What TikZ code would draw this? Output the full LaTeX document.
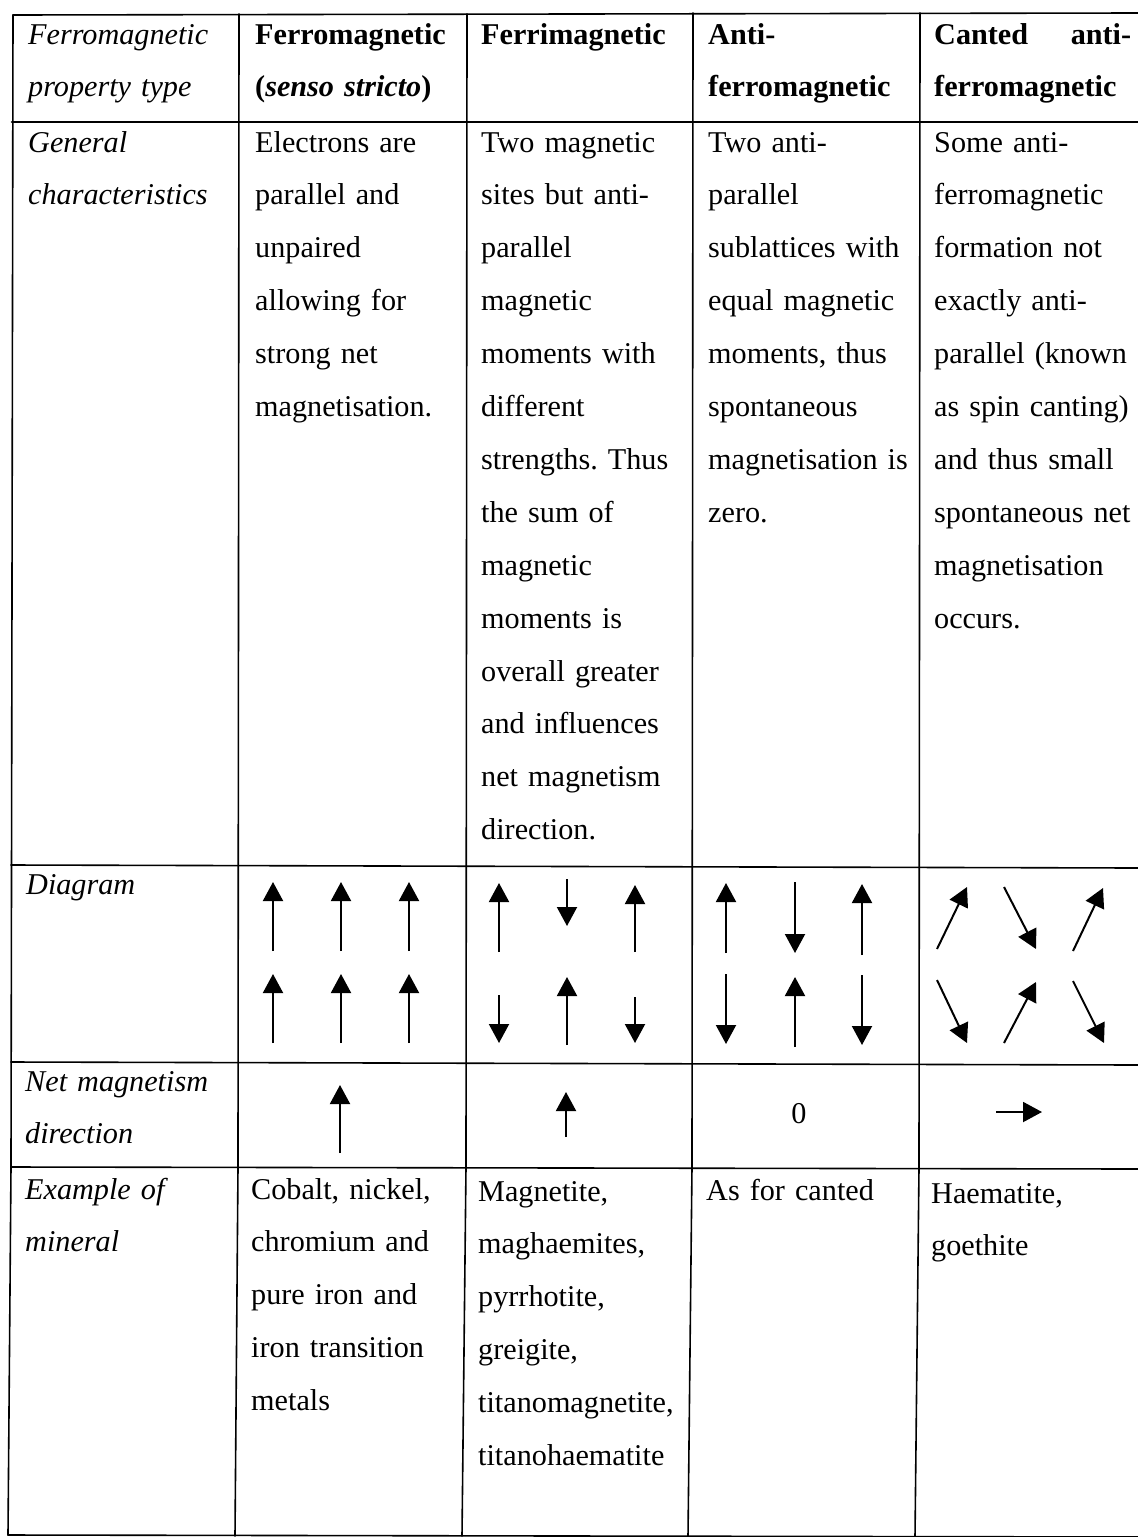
\documentclass[tikz,border=0pt]{standalone}
\usepackage{fontspec}
\setmainfont{Liberation Serif}
\usetikzlibrary{arrows.meta}
\frenchspacing

\begin{document}
\begin{tikzpicture}[x=1pt,y=-1pt,
  rule/.style={line width=1.6pt, line cap=round},
  txt/.style={anchor=base west, inner sep=0pt, align=left, text width=205pt,
    font=\fontsize{30.2}{52.9}\selectfont},
  head/.style={txt, font=\fontsize{30.2}{52.9}\selectfont\bfseries},
  lbl/.style={txt, font=\fontsize{30.2}{52.9}\selectfont\itshape},
  spin/.style={line width=2pt, -{Triangle[length=19pt,width=20pt]}},
]
\useasboundingbox (0,0) rectangle (1138,1537);

% horizontal rules
\draw[rule] (13,15) -- (1138,13);
\draw[rule, line width=2.6pt] (12,122) -- (1138,122);
\draw[rule] (11,865) -- (1138,868);
\draw[rule] (11,1062) -- (1138,1065);
\draw[rule] (11,1167) -- (1138,1169);
\draw[rule] (8,1535) -- (1138,1537);

% vertical rules
\draw[rule] (13,15) -- (11,1167) -- (8,1535);
\draw[rule] (239,14) -- (238,1167) -- (235,1536);
\draw[rule] (467,14) -- (466,1167) -- (462,1536);
\draw[rule] (693,13) -- (692,1167) -- (688,1537);
\draw[rule] (920,13) -- (919,1168) -- (915,1537);

% header row
\node[lbl] (h1) at (28,44) {Ferromagnetic\\property type};
\node[head] (h2) at (255,44) {Ferromagnetic\\(\textit{senso stricto})};
\node[head] (h3) at (481,44) {Ferrimagnetic};
\node[head] (h4) at (708,44) {Anti-\\ferromagnetic};
\node[head] (h5) at (934,44) {\hbox to 197pt{Canted\hfill anti-}\\ferromagnetic};

% general characteristics
\node[lbl] (g1) at (28,152) {General\\characteristics};
\node[txt] (g2) at (255,152) {Electrons are\\parallel and\\unpaired\\allowing for\\strong net\\magnetisation.};
\node[txt] (g3) at (481,152) {Two magnetic\\sites but anti-\\parallel\\magnetic\\moments with\\different\\strengths. Thus\\the sum of\\magnetic\\moments is\\overall greater\\and influences\\net magnetism\\direction.};
\node[txt] (g4) at (708,152) {Two anti-\\parallel\\sublattices with\\equal magnetic\\moments, thus\\spontaneous\\magnetisation is\\zero.};
\node[txt] (g5) at (934,152) {Some anti-\\ferromagnetic\\formation not\\exactly anti-\\parallel (known\\as spin canting)\\and thus small\\spontaneous net\\magnetisation\\occurs.};

% diagram row
\node[lbl] (d1) at (26,894) {Diagram};

% ferromagnetic: all parallel
\foreach \x in {273,341,409} {
  \draw[spin] (\x,951) -- (\x,882);
  \draw[spin] (\x,1043) -- (\x,974);
}
% ferrimagnetic: unequal anti-parallel moments
\draw[spin] (499,952) -- (499,883);
\draw[spin] (567,879) -- (567,926);
\draw[spin] (635,952) -- (635,885);
\draw[spin] (499,995) -- (499,1043);
\draw[spin] (567,1045) -- (567,977);
\draw[spin] (635,997) -- (635,1043);
% antiferromagnetic: equal anti-parallel moments
\draw[spin] (726,953) -- (726,883);
\draw[spin] (795,882) -- (795,953);
\draw[spin] (862,955) -- (862,884);
\draw[spin] (726,974) -- (726,1044);
\draw[spin] (795,1047) -- (795,977);
\draw[spin] (862,975) -- (862,1045);
% canted antiferromagnetic
\draw[spin] (937,949) -- (967,887);
\draw[spin] (1004,887) -- (1036,949);
\draw[spin] (1073,951) -- (1103,888);
\draw[spin] (937,980) -- (967,1043);
\draw[spin] (1004,1043) -- (1036,982);
\draw[spin] (1073,981) -- (1104,1043);

% net magnetism row
\node[lbl] (n1) at (25,1091) {Net magnetism\\direction};
\draw[spin] (340,1153) -- (340,1085);
\draw[spin] (566,1137) -- (566,1092);
\node[anchor=center, inner sep=0pt, font=\fontsize{30.2}{36}\selectfont] (n4) at (799,1114) {0};
\draw[spin] (996,1112) -- (1042,1112);

% example minerals
\node[lbl] (e1) at (25,1199) {Example of\\mineral};
\node[txt] (e2) at (251,1199) {Cobalt, nickel,\\chromium and\\pure iron and\\iron transition\\metals};
\node[txt] (e3) at (478,1201) {Magnetite,\\maghaemites,\\pyrrhotite,\\greigite,\\titanomagnetite,\\titanohaematite};
\node[txt] (e4) at (706,1200) {As for canted};
\node[txt] (e5) at (931,1203) {Haematite,\\goethite};
\end{tikzpicture}
\end{document}
